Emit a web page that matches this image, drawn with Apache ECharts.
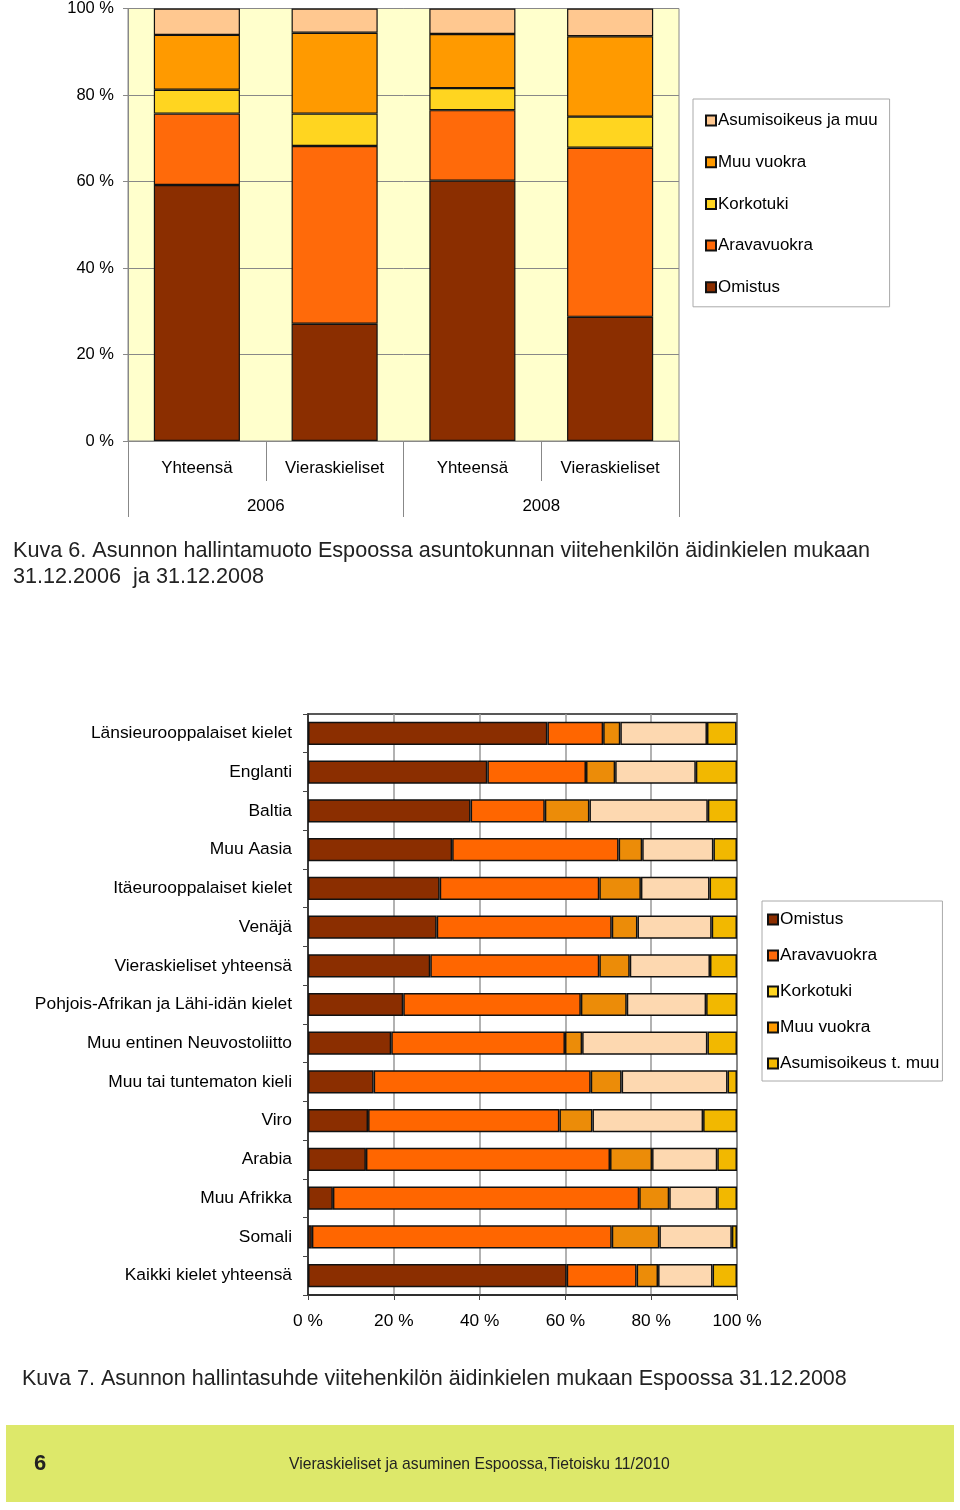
<!DOCTYPE html>
<html>
<head>
<meta charset="utf-8">
<script src="https://cdn.jsdelivr.net/npm/echarts@6/dist/echarts.min.js"></script>
<style>
html,body{margin:0;padding:0;background:#fff;}
#c{width:960px;height:1510px;}
</style>
</head>
<body>
<div id="c"></div>
<script>
// ---- Chart 1 (Kuva 6) ----
var topCategories = ['Yhteensä', 'Vieraskieliset', 'Yhteensä', 'Vieraskieliset'];
var topYears = ['2006', '2008'];
var topSeriesNames = ['Omistus', 'Aravavuokra', 'Korkotuki', 'Muu vuokra', 'Asumisoikeus ja muu'];
var topOmistus = [59.2, 27.1, 60.2, 28.7];
var topAravavuokra = [16.5, 41.1, 16.3, 39.1];
var topKorkotuki = [5.5, 7.5, 5.1, 7.2];
var topMuuVuokra = [12.7, 18.7, 12.5, 18.6];
var topAsumisoikeus = [6.1, 5.6, 5.9, 6.4];
var topColors = ['#8B2E00', '#FF6A0A', '#FFD520', '#FF9A00', '#FFC890'];

// ---- Chart 2 (Kuva 7) ----
var langCategories = ['Länsieurooppalaiset kielet', 'Englanti', 'Baltia', 'Muu Aasia',
  'Itäeurooppalaiset kielet', 'Venäjä', 'Vieraskieliset yhteensä',
  'Pohjois-Afrikan ja Lähi-idän kielet', 'Muu entinen Neuvostoliitto',
  'Muu tai tuntematon kieli', 'Viro', 'Arabia', 'Muu Afrikka', 'Somali',
  'Kaikki kielet yhteensä'];
var langSeriesNames = ['Omistus', 'Aravavuokra', 'Korkotuki', 'Muu vuokra', 'Asumisoikeus t. muu'];
var langOmistus =      [55.8, 41.8, 37.9, 33.6, 30.7, 30.0, 28.5, 22.2, 19.4, 15.3, 14.0, 13.5, 5.8, 0.9, 60.3];
var langAravavuokra =  [13.0, 23.0, 17.3, 38.8, 37.2, 40.8, 39.4, 41.4, 40.5, 50.6, 44.6, 56.9, 71.4, 69.9, 16.3];
var langKorkotuki =    [4.0, 6.8, 10.4, 5.5, 9.7, 6.0, 7.1, 10.7, 4.0, 7.2, 7.7, 9.8, 7.0, 11.1, 5.0];
var langMuuVuokra =    [20.2, 18.8, 27.6, 16.6, 16.0, 17.3, 18.7, 18.5, 29.2, 24.7, 25.8, 15.2, 11.2, 16.9, 12.7];
var langAsumisoikeus = [6.9, 9.6, 6.8, 5.5, 6.4, 5.9, 6.3, 7.2, 6.9, 2.2, 7.9, 4.6, 4.6, 1.2, 5.7];
var langColors = ['#8B2E00', '#FF6600', '#EC8C08', '#FDD8B0', '#F2B800'];

var FONT = "'Liberation Sans', Arial, sans-serif";

var topData = [topOmistus, topAravavuokra, topKorkotuki, topMuuVuokra, topAsumisoikeus];
var langData = [langOmistus, langAravavuokra, langKorkotuki, langMuuVuokra, langAsumisoikeus];

var series = [];
topSeriesNames.forEach(function (n, i) {
  series.push({
    name: n, type: 'bar', stack: 'top', xAxisIndex: 0, yAxisIndex: 0,
    data: topData[i], barCategoryGap: '37.5%',
    itemStyle: { color: topColors[i], borderColor: '#111', borderWidth: 1.2 },
    emphasis: { disabled: true }
  });
});
langSeriesNames.forEach(function (n, i) {
  series.push({
    name: n, type: 'bar', stack: 'lang', xAxisIndex: 2, yAxisIndex: 1,
    data: langData[i], barCategoryGap: '40%',
    itemStyle: { color: langColors[i], borderColor: '#111', borderWidth: 1.5 },
    emphasis: { disabled: true }
  });
});

var chart = echarts.init(document.getElementById('c'), null, { renderer: 'canvas' });
chart.setOption({
  animation: false,
  textStyle: { fontFamily: FONT },
  title: [
    { text: 'Kuva 6. Asunnon hallintamuoto Espoossa asuntokunnan viitehenkilön äidinkielen mukaan\n31.12.2006  ja 31.12.2008',
      left: 13, top: 538.5, padding: 0,
      textStyle: { fontFamily: FONT, fontSize: 21.6, fontWeight: 'normal', color: '#222', lineHeight: 26 } },
    { text: 'Kuva 7. Asunnon hallintasuhde viitehenkilön äidinkielen mukaan Espoossa 31.12.2008',
      left: 22, top: 1366.5, padding: 0,
      textStyle: { fontFamily: FONT, fontSize: 21.5, fontWeight: 'normal', color: '#222', lineHeight: 26 } }
  ],
  legend: [
    { data: ['Asumisoikeus ja muu', 'Muu vuokra', 'Korkotuki', 'Aravavuokra', 'Omistus'],
      orient: 'vertical', left: 693, top: 99, padding: [13, 12, 11, 12],
      itemWidth: 10, itemHeight: 10, itemGap: 24.7, icon: 'rect',
      backgroundColor: '#fff', borderColor: '#aaa', borderWidth: 1,
      textStyle: { fontFamily: FONT, fontSize: 16.9, color: '#000', padding: [0, 0, 0, -3] },
      selectedMode: false },
    { data: ['Omistus', 'Aravavuokra', 'Korkotuki', 'Muu vuokra', 'Asumisoikeus t. muu'],
      orient: 'vertical', left: 762, top: 901, padding: [10, 3, 9, 5],
      itemWidth: 10, itemHeight: 10, itemGap: 19, icon: 'rect',
      backgroundColor: '#fff', borderColor: '#aaa', borderWidth: 1,
      textStyle: { fontFamily: FONT, fontSize: 17.3, color: '#000', padding: [0, 0, 0, -3] },
      selectedMode: false }
  ],
  grid: [
    { left: 128, top: 7, width: 551, height: 434, show: true, backgroundColor: '#FFFFCC',
      borderColor: '#888', borderWidth: 1 },
    { left: 308, top: 714, width: 429, height: 581, show: true, backgroundColor: '#fff',
      borderColor: '#222', borderWidth: 1.5 }
  ],
  xAxis: [
    { type: 'category', gridIndex: 0, data: topCategories, position: 'bottom',
      axisLine: { show: true, lineStyle: { color: '#888', width: 1 } },
      axisTick: { show: true, length: 40, alignWithLabel: false, lineStyle: { color: '#888' } },
      axisLabel: { fontFamily: FONT, fontSize: 16.9, color: '#000', margin: 18.5 },
      splitLine: { show: false } },
    { type: 'category', gridIndex: 0, data: topYears, position: 'bottom', offset: 40,
      axisLine: { show: false },
      axisTick: { show: true, length: 36, alignWithLabel: false, lineStyle: { color: '#888' } },
      axisLabel: { fontFamily: FONT, fontSize: 16.9, color: '#000', margin: 16.5 },
      splitLine: { show: false } },
    { type: 'value', gridIndex: 1, min: 0, max: 100, interval: 20,
      axisLine: { show: true, lineStyle: { color: '#222', width: 1.5 } },
      axisTick: { show: true, length: 5, lineStyle: { color: '#444' } },
      axisLabel: { fontFamily: FONT, fontSize: 17.3, color: '#000', margin: 17.5,
        formatter: function (v) { return v + ' %'; } },
      splitLine: { show: true, lineStyle: { color: '#999', width: 1.5 } } }
  ],
  yAxis: [
    { type: 'value', gridIndex: 0, min: 0, max: 100, interval: 20,
      axisLine: { show: true, lineStyle: { color: '#888' } },
      axisTick: { show: true, length: 5, lineStyle: { color: '#888' } },
      axisLabel: { fontFamily: FONT, fontSize: 16.5, color: '#000', margin: 14,
        formatter: function (v) { return v + ' %'; } },
      splitLine: { show: true, lineStyle: { color: '#888', width: 1 } } },
    { type: 'category', gridIndex: 1, data: langCategories, inverse: true,
      axisLine: { show: true, lineStyle: { color: '#222', width: 1.5 } },
      axisTick: { show: true, length: 5, alignWithLabel: false, lineStyle: { color: '#444' } },
      axisLabel: { fontFamily: FONT, fontSize: 17.4, color: '#000', margin: 16 },
      splitLine: { show: false } }
  ],
  graphic: [
    { type: 'rect', left: 6, top: 1425, shape: { width: 948, height: 77 },
      style: { fill: '#DDE86A' }, z: 0 },
    { type: 'text', left: 34, top: 1453,
      style: { text: '6', fontFamily: FONT, fontSize: 22, fontWeight: 'bold', fill: '#222' }, z: 1 },
    { type: 'text', left: 289, top: 1457,
      style: { text: 'Vieraskieliset ja asuminen Espoossa,Tietoisku 11/2010', fontFamily: FONT,
        fontSize: 15.7, fill: '#222' }, z: 1 }
  ],
  series: series
});
</script>
</body>
</html>
